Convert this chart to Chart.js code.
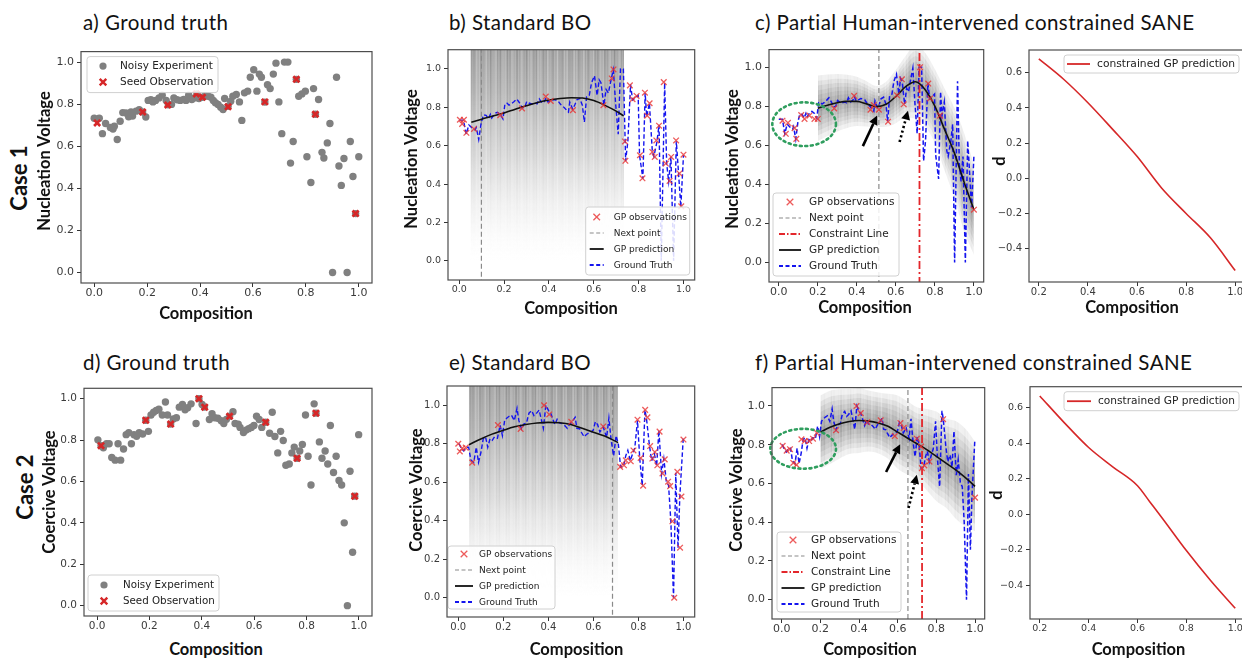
<!DOCTYPE html>
<html><head><meta charset="utf-8">
<script src="https://cdn.jsdelivr.net/npm/chart.js"></script>
<style>
html,body{margin:0;padding:0;background:#fff;width:1242px;height:658px;overflow:hidden;position:relative;}
canvas{position:absolute;}
.t{position:absolute;white-space:nowrap;font-family:Lato,"Open Sans",sans-serif;line-height:1;color:#111;}
.ttl{letter-spacing:0.45px;}
</style></head><body>
<script>
// ---------------- DATA ----------------
const xTicks = [0, 0.2, 0.4, 0.6, 0.8, 1.0];
const yTicks = [0, 0.2, 0.4, 0.6, 0.8, 1.0];
const dxTicks = [0.2, 0.4, 0.6, 0.8, 1.0];
const dyTicks = [-0.4, -0.2, 0, 0.2, 0.4, 0.6];

const panelTitles = ["a) Ground truth","b) Standard BO","c) Partial Human-intervened constrained SANE",
                     "d) Ground truth","e) Standard BO","f) Partial Human-intervened constrained SANE"];
const caseLabels = ["Case 1","Case 2"];
const xTitle = "Composition";
const yTitles = ["Nucleation Voltage","Coercive Voltage","d"];
const legendGT = ["Noisy Experiment","Seed Observation"];
const legendBO = ["GP observations","Next point","GP prediction","Ground Truth"];
const legendSANE = ["GP observations","Next point","Constraint Line","GP prediction","Ground Truth"];
const legendD = ["constrained GP prediction"];

// Case 1 noisy experiment (ground truth)
const case1X = [0.000,0.019,0.031,0.043,0.061,0.071,0.076,0.087,0.098,0.108,0.120,0.130,0.139,0.145,0.158,0.170,0.183,0.195,0.204,0.214,0.222,0.232,0.245,0.257,0.272,0.280,0.292,0.301,0.313,0.325,0.338,0.347,0.357,0.369,0.379,0.388,0.396,0.409,0.420,0.431,0.441,0.450,0.458,0.468,0.478,0.487,0.493,0.506,0.516,0.524,0.537,0.549,0.558,0.568,0.580,0.590,0.603,0.615,0.624,0.632,0.645,0.655,0.665,0.677,0.687,0.698,0.709,0.719,0.732,0.742,0.752,0.764,0.773,0.785,0.798,0.804,0.819,0.829,0.836,0.848,0.861,0.868,0.881,0.891,0.901,0.916,0.925,0.934,0.944,0.956,0.968,0.978,0.988,1.000];
const case1Y = [0.733,0.733,0.660,0.708,0.689,0.682,0.695,0.632,0.719,0.760,0.758,0.740,0.763,0.744,0.767,0.774,0.763,0.739,0.818,0.821,0.811,0.818,0.830,0.843,0.818,0.797,0.799,0.830,0.821,0.818,0.822,0.818,0.843,0.822,0.830,0.849,0.827,0.833,0.840,0.838,0.833,0.818,0.807,0.799,0.786,0.775,0.827,0.790,0.814,0.838,0.846,0.811,0.723,0.854,0.862,0.928,0.964,0.862,0.943,0.928,0.810,0.893,0.874,0.943,0.995,0.811,0.660,1.000,1.000,0.520,0.623,0.918,0.838,0.849,0.862,0.550,0.428,0.874,0.752,0.822,0.571,0.544,0.616,0.708,0.000,0.928,0.506,0.414,0.542,0.000,0.623,0.456,0.280,0.550];
const case1SeedX = [0.011,0.183,0.278,0.386,0.409,0.506,0.645,0.764,0.836,0.988];
const case1SeedY = [0.711,0.763,0.796,0.849,0.833,0.788,0.811,0.918,0.752,0.280];

// Case 2 noisy experiment (ground truth)
const case2X = [0.003,0.015,0.024,0.036,0.046,0.056,0.069,0.080,0.090,0.101,0.111,0.121,0.131,0.141,0.151,0.161,0.174,0.186,0.196,0.206,0.216,0.226,0.236,0.249,0.261,0.269,0.281,0.291,0.303,0.314,0.326,0.336,0.346,0.359,0.378,0.389,0.401,0.410,0.429,0.439,0.449,0.461,0.474,0.484,0.494,0.506,0.519,0.527,0.539,0.546,0.559,0.569,0.579,0.589,0.599,0.609,0.619,0.629,0.644,0.659,0.669,0.679,0.690,0.701,0.711,0.721,0.734,0.744,0.753,0.764,0.774,0.784,0.796,0.806,0.817,0.829,0.836,0.849,0.859,0.871,0.881,0.891,0.903,0.913,0.924,0.934,0.944,0.956,0.966,0.976,0.984,0.999];
const case2Y = [0.801,0.773,0.763,0.782,0.782,0.716,0.703,0.782,0.703,0.757,0.826,0.836,0.782,0.826,0.818,0.836,0.829,0.896,0.842,0.921,0.934,0.943,0.949,0.921,0.984,0.921,0.877,0.902,0.908,0.959,0.972,0.946,0.956,0.975,0.880,1.000,0.972,0.960,0.899,0.927,0.908,0.905,0.893,0.880,0.900,0.915,0.937,0.880,0.877,0.861,0.836,0.848,0.855,0.861,0.870,0.915,0.899,0.861,0.886,0.833,0.934,0.817,0.738,0.842,0.798,0.678,0.684,0.738,0.766,0.712,0.747,0.779,0.921,0.722,0.583,0.975,0.930,0.791,0.712,0.747,0.684,0.870,0.643,0.722,0.605,0.583,0.400,0.000,0.649,0.258,0.529,0.826];
const case2SeedX = [0.015,0.186,0.281,0.389,0.411,0.506,0.644,0.764,0.836,0.984];
const case2SeedY = [0.773,0.896,0.877,1.000,0.959,0.915,0.886,0.712,0.930,0.529];

// b) Standard BO, case 1
const bObsX = [0.003,0.013,0.021,0.032,0.066,0.183,0.280,0.386,0.408,0.507,0.643,0.680,0.688,0.739,0.741,0.761,0.773,0.791,0.806,0.817,0.828,0.838,0.849,0.861,0.872,0.879,0.891,0.912,0.921,0.938,0.945,0.967,0.982,0.990,1.000];
const bObsY = [0.735,0.713,0.735,0.667,0.687,0.759,0.794,0.856,0.833,0.785,0.811,0.950,0.997,0.622,0.521,0.914,0.842,0.859,0.550,0.430,0.876,0.756,0.821,0.567,0.541,0.627,0.704,0.931,0.507,0.416,0.541,0.627,0.455,0.284,0.553];
const bPredX = [0.054,0.1,0.15,0.2,0.25,0.3,0.35,0.4,0.45,0.5,0.55,0.6,0.65,0.7,0.733];
const bPredY = [0.722,0.738,0.755,0.770,0.790,0.808,0.825,0.838,0.846,0.850,0.848,0.835,0.810,0.780,0.755];
const bNext = [0.099];
const bSampleX = [0.05, 0.735];
const bSampleTop = [1.1, 1.1];
const bSampleBottom = [0.0, 0.0];

// e) Standard BO, case 2
const eObsX = [0.000,0.007,0.018,0.033,0.062,0.176,0.277,0.381,0.404,0.502,0.644,0.719,0.736,0.744,0.766,0.778,0.796,0.810,0.821,0.830,0.840,0.852,0.862,0.873,0.884,0.894,0.907,0.917,0.932,0.941,0.951,0.959,0.973,0.985,0.991,1.000];
const eObsY = [0.800,0.760,0.777,0.780,0.702,0.897,0.877,1.000,0.952,0.914,0.890,0.680,0.688,0.714,0.709,0.765,0.925,0.726,0.582,0.976,0.937,0.788,0.723,0.757,0.688,0.863,0.646,0.719,0.603,0.580,0.397,0.000,0.654,0.260,0.526,0.822];
const ePredX = [0.047,0.1,0.15,0.2,0.25,0.3,0.35,0.4,0.45,0.5,0.55,0.6,0.65,0.71];
const ePredY = [0.795,0.825,0.850,0.870,0.888,0.900,0.908,0.911,0.909,0.900,0.880,0.860,0.840,0.806];
const eNext = [0.685];
const eSampleX = [0.047, 0.71];
const eSampleTop = [1.1, 1.1];
const eSampleBottom = [0.0, 0.0];

// c) constrained SANE, case 1
const cObsX = [0.019,0.036,0.047,0.081,0.090,0.115,0.132,0.157,0.183,0.200,0.284,0.386,0.470,0.487,0.513,0.560,0.606,0.631,0.640,0.724,0.766,0.775,0.826,1.000];
const cObsY = [0.726,0.659,0.715,0.688,0.633,0.755,0.735,0.752,0.735,0.735,0.789,0.853,0.782,0.806,0.782,0.721,0.856,0.938,0.810,1.000,0.916,0.840,0.752,0.270];
const cPredX = [0.2,0.25,0.3,0.35,0.4,0.45,0.5,0.55,0.6,0.65,0.7,0.75,0.8,0.85,0.9,0.95,1.0];
const cPredY = [0.790,0.805,0.818,0.825,0.825,0.812,0.798,0.810,0.850,0.900,0.925,0.885,0.800,0.680,0.560,0.410,0.270];
const cPredSd = [0.08,0.075,0.07,0.065,0.06,0.055,0.05,0.055,0.065,0.075,0.09,0.09,0.09,0.10,0.11,0.12,0.11];
const cNext = [0.513];
const cConstraint = [0.721];
const cEllipse = [0.13, 0.708, 0.163, 0.112];
const cArrowSolid = [0.431, 0.596, 0.504, 0.752];
const cArrowDotted = [0.619, 0.617, 0.662, 0.777];

// f) constrained SANE, case 2
const fObsX = [0.005,0.026,0.043,0.060,0.077,0.102,0.119,0.142,0.162,0.182,0.281,0.387,0.409,0.443,0.512,0.585,0.614,0.631,0.699,0.721,0.725,0.738,0.764,0.835,1.000];
const fObsY = [0.794,0.769,0.777,0.706,0.696,0.828,0.819,0.819,0.831,0.861,0.875,1.000,0.963,0.916,0.926,0.845,0.912,0.887,0.831,0.790,0.679,0.693,0.713,0.932,0.527];
const fPredX = [0.2,0.25,0.3,0.35,0.4,0.45,0.5,0.55,0.6,0.65,0.7,0.75,0.8,0.85,0.9,0.95,1.0];
const fPredY = [0.865,0.890,0.908,0.920,0.925,0.922,0.912,0.895,0.865,0.835,0.805,0.775,0.740,0.705,0.670,0.630,0.585];
const fPredSd = [0.09,0.09,0.085,0.08,0.08,0.075,0.075,0.08,0.09,0.09,0.09,0.10,0.11,0.11,0.12,0.12,0.11];
const fNext = [0.653];
const fConstraint = [0.726];
const fEllipse = [0.111, 0.779, 0.17, 0.103];
const fArrowSolid = [0.540, 0.659, 0.613, 0.802];
const fArrowDotted = [0.656, 0.473, 0.699, 0.645];

// right panels: constrained GP prediction d(composition)
const dX = [0.2,0.3,0.4,0.5,0.6,0.7,0.8,0.9,1.0];
const dCase1 = [0.680,0.565,0.430,0.280,0.125,-0.055,-0.200,-0.340,-0.525];
const dCase2X = [0.2,0.3,0.4,0.5,0.6,0.65,0.7,0.8,0.9,1.0];
const dCase2 = [0.665,0.515,0.375,0.265,0.160,0.070,-0.020,-0.205,-0.375,-0.530];

// ---------------- HELPERS ----------------
const zip = (xs, ys) => xs.map((x, i) => ({x, y: ys[i]}));
const vline = (v) => [{x: v, y: -2}, {x: v, y: 2}];
const fmt = v => { const s = (Math.abs(v) < 1e-9 ? 0 : v).toFixed(1); return s.replace('-', '\u2212'); };

// texture for the many overlapping GP sample curves (style only)
const patCache = new WeakMap();
function streaks(chart, kind) {
  let m = patCache.get(chart); if (!m) { m = {}; patCache.set(chart, m); }
  if (m[kind]) return m[kind];
  const a = chart.chartArea; if (!a) return 'rgba(90,90,90,0.2)';
  const off = document.createElement('canvas'); off.width = chart.width; off.height = chart.height;
  const c = off.getContext('2d');
  const ys = chart.scales.y;
  if (kind === 'grad') {
    const g = c.createLinearGradient(0, ys.getPixelForValue(1.1), 0, ys.getPixelForValue(0.0));
    g.addColorStop(0, 'rgba(75,75,75,0.66)'); g.addColorStop(0.2, 'rgba(85,85,85,0.56)');
    g.addColorStop(0.5, 'rgba(115,115,115,0.36)'); g.addColorStop(0.75, 'rgba(150,150,150,0.16)');
    g.addColorStop(1, 'rgba(210,210,210,0)');
    c.fillStyle = g;
  } else c.fillStyle = 'rgba(60,60,60,0.11)';
  c.fillRect(a.left, a.top, a.right - a.left, a.bottom - a.top);
  c.globalCompositeOperation = 'destination-out';
  for (let x = Math.floor(a.left); x < a.right; x++) {
    const s = 0.5 + 0.22 * Math.sin(x * 0.71) + 0.18 * Math.sin(x * 1.93 + 1.3) + 0.1 * Math.sin(x * 3.7 + 0.4);
    c.fillStyle = 'rgba(0,0,0,' + (0.05 + 0.42 * s).toFixed(3) + ')';
    c.fillRect(x, a.top, 1, a.bottom - a.top);
  }
  const p = chart.ctx.createPattern(off, 'no-repeat');
  m[kind] = p; return p;
}

// ---------------- PLUGINS ----------------
const framePlugin = { id: 'frame', afterDraw(chart) {
  const {ctx, chartArea: a} = chart; ctx.save(); ctx.strokeStyle = '#4d4d4d'; ctx.lineWidth = 1.2;
  ctx.strokeRect(a.left, a.top, a.right - a.left, a.bottom - a.top); ctx.restore(); } };

function arrow(ctx, x1, y1, x2, y2, dotted) {
  const ang = Math.atan2(y2 - y1, x2 - x1), L = 9, Wd = 4.5;
  const bx = x2 - L * Math.cos(ang), by = y2 - L * Math.sin(ang);
  ctx.save(); ctx.strokeStyle = '#000'; ctx.fillStyle = '#000'; ctx.lineWidth = 2.6;
  if (dotted) { ctx.setLineDash([2.2, 2.6]); }
  ctx.beginPath(); ctx.moveTo(x1, y1); ctx.lineTo(bx, by); ctx.stroke();
  ctx.setLineDash([]);
  ctx.beginPath(); ctx.moveTo(x2, y2);
  ctx.lineTo(bx + Wd * Math.sin(ang), by - Wd * Math.cos(ang));
  ctx.lineTo(bx - Wd * Math.sin(ang), by + Wd * Math.cos(ang)); ctx.closePath(); ctx.fill();
  ctx.restore();
}
const overlayPlugin = { id: 'overlays', afterDatasetsDraw(chart, args, o) {
  if (!o || !o.ellipse) return;
  const xs = chart.scales.x, ys = chart.scales.y, ctx = chart.ctx;
  const [cx, cy, rx, ry] = o.ellipse;
  const px = xs.getPixelForValue(cx), py = ys.getPixelForValue(cy);
  const prx = Math.abs(xs.getPixelForValue(cx + rx) - px), pry = Math.abs(ys.getPixelForValue(cy + ry) - py);
  ctx.save(); ctx.setLineDash([2, 3.6]); ctx.lineCap = 'round'; ctx.strokeStyle = '#2f9e5e'; ctx.lineWidth = 2.6;
  ctx.beginPath(); ctx.ellipse(px, py, prx, pry, 0, 0, Math.PI * 2); ctx.stroke(); ctx.restore();
  const A = (v, d) => arrow(ctx, xs.getPixelForValue(v[0]), ys.getPixelForValue(v[1]), xs.getPixelForValue(v[2]), ys.getPixelForValue(v[3]), d);
  A(o.solid, false); A(o.dotted, true);
} };

const legendPlugin = { id: 'mplLegend', afterDatasetsDraw(chart, args, o) {
  if (!o || !o.items) return;
  const {ctx, chartArea: a} = chart;
  const x = o.anchor[1] === 'r' ? a.right - o.dx - o.w : a.left + o.dx;
  const y = o.anchor[0] === 'b' ? a.bottom - o.dy - o.h : a.top + o.dy;
  ctx.save();
  ctx.beginPath(); ctx.roundRect(x, y, o.w, o.h, 3);
  ctx.fillStyle = 'rgba(255,255,255,0.85)'; ctx.fill(); ctx.strokeStyle = '#d0d0d0'; ctx.lineWidth = 1; ctx.stroke();
  ctx.font = o.fs + 'px "DejaVu Sans"'; ctx.textBaseline = 'middle';
  o.items.forEach((it, i) => {
    const cy = y + o.cy0 + i * o.row, mx = x + o.mx;
    ctx.save();
    if (it.kind === 'dot') { ctx.fillStyle = '#808080'; ctx.beginPath(); ctx.arc(mx, cy, 3.6, 0, Math.PI * 2); ctx.fill(); }
    else if (it.kind === 'x') { ctx.strokeStyle = it.color; ctx.lineWidth = it.w; const r = 3.3;
      ctx.beginPath(); ctx.moveTo(mx - r, cy - r); ctx.lineTo(mx + r, cy + r); ctx.moveTo(mx - r, cy + r); ctx.lineTo(mx + r, cy - r); ctx.stroke(); }
    else { ctx.strokeStyle = it.color; ctx.lineWidth = it.w; ctx.setLineDash(it.dash || []);
      ctx.beginPath(); ctx.moveTo(mx - o.half, cy); ctx.lineTo(mx + o.half, cy); ctx.stroke(); }
    ctx.restore();
    ctx.fillStyle = '#222'; ctx.fillText(it.label, x + o.tx, cy + 0.5);
  });
  ctx.restore();
} };
Chart.register(framePlugin, overlayPlugin, legendPlugin);

// ---------------- STYLES ----------------
const RED_OBS = 'rgba(232,50,50,0.8)';
const BLUE = '#1414ee';
const GT_DASH = [4.5, 2.5];
const NEXT_DASH = [5, 3];
const CON_DASH = [8, 3, 2, 3];

function axis(range, ticks, fs, dir) {
  return { type: 'linear', min: range[0], max: range[1],
    afterBuildTicks: s => { s.ticks = ticks.map(v => ({value: v})); },
    afterFit: s => { if (dir === 'x') s.height = 22; else s.width = 44; },
    grid: { display: true, drawOnChartArea: false, drawTicks: true, tickLength: 4, color: '#333', lineWidth: 1 },
    border: { display: false },
    ticks: { font: { family: '"DejaVu Sans"', size: fs }, color: '#3a3a3a', padding: dir === 'x' ? 0 : 3,
      maxRotation: 0, autoSkip: false, callback: v => fmt(v) } };
}

function makeChart(box, xr, xt, yr, yt, fs, datasets, plugins) {
  const W = 44, H = 22, PT = 6, PR = 3;
  const cv = document.createElement('canvas');
  const cw = box[2] - box[0] + W + PR, ch = box[3] - box[1] + PT + H;
  cv.width = cw; cv.height = ch;
  cv.style.left = (box[0] - W) + 'px'; cv.style.top = (box[1] - PT) + 'px';
  cv.style.width = cw + 'px'; cv.style.height = ch + 'px';
  document.body.appendChild(cv);
  return new Chart(cv, { type: 'line', data: { datasets },
    options: { responsive: false, animation: false, events: [],
      layout: { padding: { top: PT, right: PR, left: 0, bottom: 0 } },
      plugins: Object.assign({ legend: { display: false }, tooltip: { enabled: false } }, plugins),
      scales: { x: axis(xr, xt, fs, 'x'), y: axis(yr, yt, fs, 'y') } } });
}

const scatterDS = (label, xs, ys, style) => Object.assign({ label, data: zip(xs, ys), showLine: false }, style);
const lineDS = (label, data, style) => Object.assign({ label, data, showLine: true, pointRadius: 0, fill: false, tension: 0 }, style);

function gtPanel(box, X, Y, SX, SY, fs, leg) {
  return makeChart(box, [-0.05, 1.05], xTicks, [-0.05, 1.05], yTicks, fs, [
    scatterDS(legendGT[1], SX, SY, { pointStyle: 'crossRot', pointRadius: 4.3, pointBorderWidth: 2.7, pointBorderColor: '#d62728', pointBackgroundColor: '#d62728' }),
    scatterDS(legendGT[0], X, Y, { pointStyle: 'circle', pointRadius: 3.7, pointBorderWidth: 0, pointBackgroundColor: '#808080' })
  ], { mplLegend: Object.assign({ items: [
    { label: legendGT[0], kind: 'dot' },
    { label: legendGT[1], kind: 'x', color: '#d62728', w: 2.4 } ] }, leg) });
}

function boPanel(box, yr, fs, obsX, obsY, predX, predY, next, gtX, gtY, sX, sTop, sBot, leg) {
  return makeChart(box, [-0.05, 1.05], xTicks, yr, yTicks, fs, [
    scatterDS(legendBO[0], obsX, obsY, { pointStyle: 'crossRot', pointRadius: 4, pointBorderWidth: 1.3, pointBorderColor: RED_OBS }),
    lineDS(legendBO[2], zip(predX, predY), { borderColor: '#111', borderWidth: 1.6, cubicInterpolationMode: 'monotone' }),
    lineDS(legendBO[3], zip(gtX, gtY), { borderColor: BLUE, borderWidth: 1.4, borderDash: GT_DASH }),
    lineDS(legendBO[1], vline(next[0]), { borderColor: '#8a8a8a', borderWidth: 1.2, borderDash: NEXT_DASH }),
    lineDS('GP samples', zip(sX, sTop), { borderWidth: 0, fill: '+1', backgroundColor: c => streaks(c.chart, 'grad') }),
    lineDS('GP samples lower', zip(sX, sBot), { borderWidth: 0 })
  ], { mplLegend: Object.assign({ items: [
    { label: legendBO[0], kind: 'x', color: RED_OBS, w: 1.3 },
    { label: legendBO[1], kind: 'line', color: '#8a8a8a', w: 1.2, dash: [4, 2.5] },
    { label: legendBO[2], kind: 'line', color: '#111', w: 1.8 },
    { label: legendBO[3], kind: 'line', color: BLUE, w: 1.8, dash: [4, 2.5] } ] }, leg) });
}

function sanePanel(box, yr, fs, obsX, obsY, predX, predY, sd, next, con, gtX, gtY, ell, aS, aD, leg) {
  const bands = [];
  [2.1, 1.75, 1.45, 1.15, 0.85, 0.55, 0.25].forEach(k => {
    bands.push(lineDS('GP samples +' + k, predX.map((x, i) => ({x, y: predY[i] + k * sd[i]})), { borderWidth: 0, fill: '+1', cubicInterpolationMode: 'monotone', backgroundColor: c => streaks(c.chart, 'flat') }));
    bands.push(lineDS('GP samples -' + k, predX.map((x, i) => ({x, y: predY[i] - k * sd[i]})), { borderWidth: 0, cubicInterpolationMode: 'monotone' }));
  });
  return makeChart(box, [-0.05, 1.05], xTicks, yr, yTicks, fs, [
    scatterDS(legendSANE[0], obsX, obsY, { pointStyle: 'crossRot', pointRadius: 4, pointBorderWidth: 1.3, pointBorderColor: RED_OBS }),
    lineDS(legendSANE[3], zip(predX, predY), { borderColor: '#111', borderWidth: 1.6, cubicInterpolationMode: 'monotone' }),
    lineDS(legendSANE[2], vline(con[0]), { borderColor: '#e3262b', borderWidth: 1.8, borderDash: CON_DASH }),
    lineDS(legendSANE[1], vline(next[0]), { borderColor: '#8a8a8a', borderWidth: 1.2, borderDash: NEXT_DASH }),
    lineDS(legendSANE[4], zip(gtX, gtY), { borderColor: BLUE, borderWidth: 1.5, borderDash: GT_DASH }),
    ...bands
  ], { overlays: { ellipse: ell, solid: aS, dotted: aD },
       mplLegend: Object.assign({ items: [
    { label: legendSANE[0], kind: 'x', color: RED_OBS, w: 1.3 },
    { label: legendSANE[1], kind: 'line', color: '#8a8a8a', w: 1.2, dash: [4, 2.5] },
    { label: legendSANE[2], kind: 'line', color: '#e3262b', w: 1.8, dash: [6, 2, 1.5, 2] },
    { label: legendSANE[3], kind: 'line', color: '#111', w: 1.8 },
    { label: legendSANE[4], kind: 'line', color: BLUE, w: 1.8, dash: [4, 2.5] } ] }, leg) });
}

function dPanel(box, yr, fs, xs, ys, leg) {
  return makeChart(box, [0.16, 1.04], dxTicks, yr, dyTicks, fs, [
    lineDS(legendD[0], zip(xs, ys), { borderColor: '#d62728', borderWidth: 1.6, cubicInterpolationMode: 'monotone' })
  ], { mplLegend: Object.assign({ items: [{ label: legendD[0], kind: 'line', color: '#d62728', w: 1.8 }] }, leg) });
}

// ---------------- BUILD ----------------
gtPanel([81, 48, 376, 283], case1X, case1Y, case1SeedX, case1SeedY, 11,
  { anchor: 'tl', dx: 6, dy: 5, w: 131, h: 36, cy0: 9.5, row: 16, mx: 16, tx: 33, fs: 10.5 });
boPanel([448, 47, 697, 280], [-0.1, 1.1], 9.5, bObsX, bObsY, bPredX, bPredY, bNext, case1X, case1Y, bSampleX, bSampleTop, bSampleBottom,
  { anchor: 'br', dx: 5, dy: 5, w: 104, h: 68, cy0: 10, row: 16, mx: 11, half: 7, tx: 28, fs: 9 });
sanePanel([769, 46, 986, 282], [-0.1, 1.09], 11, cObsX, cObsY, cPredX, cPredY, cPredSd, cNext, cConstraint, case1X, case1Y,
  cEllipse, cArrowSolid, cArrowDotted,
  { anchor: 'bl', dx: 4, dy: 6, w: 126, h: 83, cy0: 9, row: 16, mx: 17, half: 11, tx: 36, fs: 10.5 });
dPanel([1029, 47, 1245, 282], [-0.59, 0.73], 10, dX, dCase1,
  { anchor: 'tr', dx: 6, dy: 5, w: 175, h: 18, cy0: 9, row: 16, mx: 14.5, half: 11.5, tx: 33, fs: 10.7 });

gtPanel([84, 385, 376, 616], case2X, case2Y, case2SeedX, case2SeedY, 10.5,
  { anchor: 'bl', dx: 4, dy: 5, w: 131, h: 36, cy0: 10, row: 16, mx: 16, tx: 35, fs: 10.3 });
boPanel([447, 383, 697, 617], [-0.1, 1.1], 10, eObsX, eObsY, ePredX, ePredY, eNext, case2X, case2Y, eSampleX, eSampleTop, eSampleBottom,
  { anchor: 'bl', dx: 1, dy: 8, w: 107, h: 63, cy0: 8, row: 16, mx: 16, half: 9, tx: 31, fs: 9 });
sanePanel([772, 384, 987, 619], [-0.1, 1.095], 11, fObsX, fObsY, fPredX, fPredY, fPredSd, fNext, fConstraint, case2X, case2Y,
  fEllipse, fArrowSolid, fArrowDotted,
  { anchor: 'bl', dx: 5, dy: 7, w: 124, h: 80, cy0: 8, row: 16, mx: 16, half: 11.5, tx: 34, fs: 10.5 });
dPanel([1030, 384, 1245, 619], [-0.59, 0.717], 9.5, dCase2X, dCase2,
  { anchor: 'tr', dx: 6, dy: 5, w: 175, h: 19, cy0: 9.5, row: 16, mx: 15, half: 12, tx: 34, fs: 10.6 });

// ---------------- TEXT ----------------
function txt(s, x, y, o) {
  const d = document.createElement('div'); d.className = 't' + (o.cls ? ' ' + o.cls : ''); d.textContent = s;
  d.style.fontSize = o.size + 'px'; d.style.fontWeight = o.bold ? '700' : '400';
  d.style.left = x + 'px'; d.style.top = y + 'px';
  d.style.transform = o.rot ? 'translate(-50%,-50%) rotate(-90deg)' : (o.center ? 'translate(-50%,-50%)' : 'translateY(-50%)');
  document.body.appendChild(d);
}
const TS = 20.5;
txt(panelTitles[0], 83, 22, { size: TS, cls: 'ttl' });
txt(panelTitles[1], 449, 22, { size: TS, cls: 'ttl' });
txt(panelTitles[2], 755, 22, { size: TS, cls: 'ttl' });
txt(panelTitles[3], 83, 362, { size: TS, cls: 'ttl' });
txt(panelTitles[4], 449, 362, { size: TS, cls: 'ttl' });
txt(panelTitles[5], 755, 362, { size: TS, cls: 'ttl' });
txt(caseLabels[0], 19, 178, { size: 22, bold: true, rot: true });
txt(caseLabels[1], 25, 487, { size: 22, bold: true, rot: true });
const AS = 16.5;
txt(yTitles[0], 44, 161, { size: AS, bold: true, rot: true });
txt(yTitles[0], 411, 159, { size: AS, bold: true, rot: true });
txt(yTitles[0], 732, 159, { size: AS, bold: true, rot: true });
txt(yTitles[2], 999, 161, { size: AS, bold: true, rot: true });
txt(yTitles[1], 49, 492, { size: AS, bold: true, rot: true });
txt(yTitles[1], 416, 490, { size: AS, bold: true, rot: true });
txt(yTitles[1], 736, 490, { size: AS, bold: true, rot: true });
txt(yTitles[2], 996, 495, { size: AS, bold: true, rot: true });
txt(xTitle, 206, 313, { size: AS, bold: true, center: true });
txt(xTitle, 571, 307.5, { size: AS, bold: true, center: true });
txt(xTitle, 865, 306.5, { size: AS, bold: true, center: true });
txt(xTitle, 1132, 307, { size: AS, bold: true, center: true });
txt(xTitle, 216, 649, { size: AS, bold: true, center: true });
txt(xTitle, 576.5, 649, { size: AS, bold: true, center: true });
txt(xTitle, 870, 649, { size: AS, bold: true, center: true });
txt(xTitle, 1138.5, 649, { size: AS, bold: true, center: true });
</script>
</body></html>
